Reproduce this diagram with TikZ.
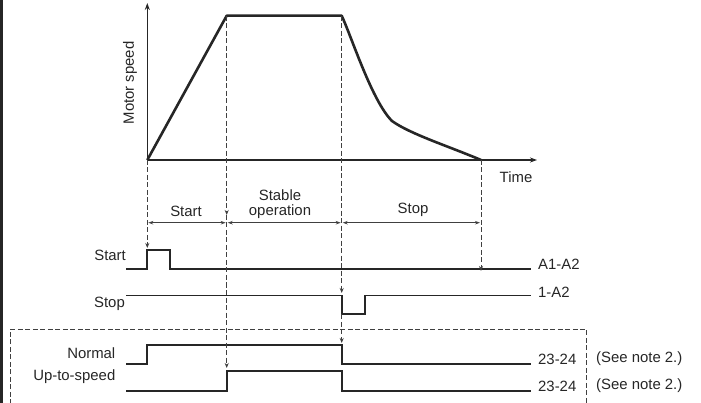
\documentclass[tikz,border=0pt]{standalone}
\usepackage{fontspec}
\setmainfont{Liberation Sans}
\usetikzlibrary{arrows.meta}
\begin{document}
\begin{tikzpicture}[x=1pt,y=-1pt,
  lbl/.style={inner sep=0pt,font=\fontsize{14.9}{16}\selectfont,text=black!85},
  sig/.style={line width=1.9pt,black!85},
  speed/.style={line width=2.6pt,black!85,line join=round},
  axis/.style={line width=1.1pt,black!85},
  guide/.style={dashed,dash pattern=on 5pt off 2.5pt,line width=0.9pt,black!75},
  tip/.style={-{Stealth[length=5pt,width=4pt]}},
  dim/.style={line width=0.9pt,black!75,{Stealth[length=5pt,width=3.5pt]}-{Stealth[length=5pt,width=3.5pt]}}]
\useasboundingbox (0,0) rectangle (701,403);
% left border
\draw[line width=2.4pt,black!85] (1.6,0) -- (1.6,403);
% coordinates
\coordinate (O) at (147.3,160);
\coordinate (Ytop) at (147.3,3);
\coordinate (Xend) at (537,160);
\coordinate (P1) at (226.7,15.7);
\coordinate (P2) at (341.7,15.7);
\coordinate (Pm) at (392,121);
\coordinate (P3) at (481,160);
% axes
\draw[axis,-{Stealth[length=7pt,width=5pt]}] (O) -- (Ytop);
\draw[axis,-{Stealth[length=7pt,width=5pt]}] (O) -- (Xend);
% speed curve
\draw[speed] (O) -- (P1) -- (P2) .. controls (352,38) and (372,101) .. (Pm) .. controls (410,134) and (448,146) .. (P3);
\node[lbl,rotate=90] (ms) at (130,83) {Motor speed};
\node[lbl] (time) at (516,177) {Time};
% signal corner coordinates
\coordinate (S0) at (126,269.3);
\coordinate (S1) at (147.3,269.3);
\coordinate (S2) at (147.3,250.3);
\coordinate (S3) at (170.3,250.3);
\coordinate (S4) at (170.3,269.3);
\coordinate (S5) at (531,269.3);
\coordinate (T0) at (126,295.5);
\coordinate (T1) at (341.7,295.5);
\coordinate (T2) at (341.7,314.3);
\coordinate (T3) at (365,314.3);
\coordinate (T4) at (365,295.5);
\coordinate (T5) at (531,295.5);
\coordinate (N0) at (126,363.8);
\coordinate (N1) at (147.3,363.8);
\coordinate (N2) at (147.3,345);
\coordinate (N3) at (341.7,345);
\coordinate (N4) at (341.7,363.8);
\coordinate (N5) at (531,363.8);
\coordinate (U0) at (126,390.7);
\coordinate (U1) at (226.7,390.7);
\coordinate (U2) at (226.7,371);
\coordinate (U3) at (341.7,371);
\coordinate (U4) at (341.7,390.7);
\coordinate (U5) at (531,390.7);
\draw[sig] (S0) -- (S1) -- (S2) -- (S3) -- (S4) -- (S5);
\draw[sig] (T0) -- (T1) -- (T2) -- (T3) -- (T4) -- (T5);
\draw[sig] (N0) -- (N1) -- (N2) -- (N3) -- (N4) -- (N5);
\draw[sig] (U0) -- (U1) -- (U2) -- (U3) -- (U4) -- (U5);
% guide lines
\coordinate (G1) at (147.3,248);
\coordinate (G2a) at (226.7,215);
\coordinate (G2) at (226.7,368);
\coordinate (G3a) at (341.7,293);
\coordinate (G3b) at (341.7,343);
\coordinate (G4) at (481,271);
\draw[guide,tip] (O) -- (G1);
\draw[guide,tip] (P1) -- (G2a);
\draw[guide,tip] (G2a) -- (G2);
\draw[guide,tip] (P2) -- (G3a);
\draw[guide,tip] (T2) -- (G3b);
\draw[guide,tip] (P3) -- (G4);
% dimension lines
\coordinate (D0) at (147.3,222.7);
\coordinate (D1) at (226.7,222.7);
\coordinate (D2) at (341.7,222.7);
\coordinate (D3) at (481,222.7);
\draw[dim] ([xshift=1pt]D0) -- ([xshift=-1pt]D1);
\draw[dim] ([xshift=1pt]D1) -- ([xshift=-1pt]D2);
\draw[dim] ([xshift=1pt]D2) -- ([xshift=-1pt]D3);
\node[lbl] (lstart) at (186,211) {Start};
\node[lbl,align=center,font=\fontsize{14.9}{15}\selectfont] (lstable) at (280,204) {Stable\\operation};
\node[lbl] (lstop) at (413,210) {Stop};
% dashed box
\draw[guide] (10,404) -- (10,329.3) -- (586.7,329.3) -- (586.7,404);
% signal labels
\node[lbl,anchor=east] (nstart) at (126,255) {Start};
\node[lbl,anchor=east] (nstop) at (125,303.5) {Stop};
\node[lbl,anchor=east] (nnormal) at (115.5,352.7) {Normal};
\node[lbl,anchor=east] (nup) at (115.5,376.7) {Up-to-speed};
\node[lbl,anchor=west] (ra1) at (538,264.3) {A1-A2};
\node[lbl,anchor=west] (ra2) at (538,292) {1-A2};
\node[lbl,anchor=west] (rn) at (538,359) {23-24};
\node[lbl,anchor=west] (ru) at (538,386) {23-24};
\node[lbl,anchor=west] (sn1) at (596,359) {(See note 2.)};
\node[lbl,anchor=west] (sn2) at (596,386) {(See note 2.)};
\end{tikzpicture}
\end{document}
